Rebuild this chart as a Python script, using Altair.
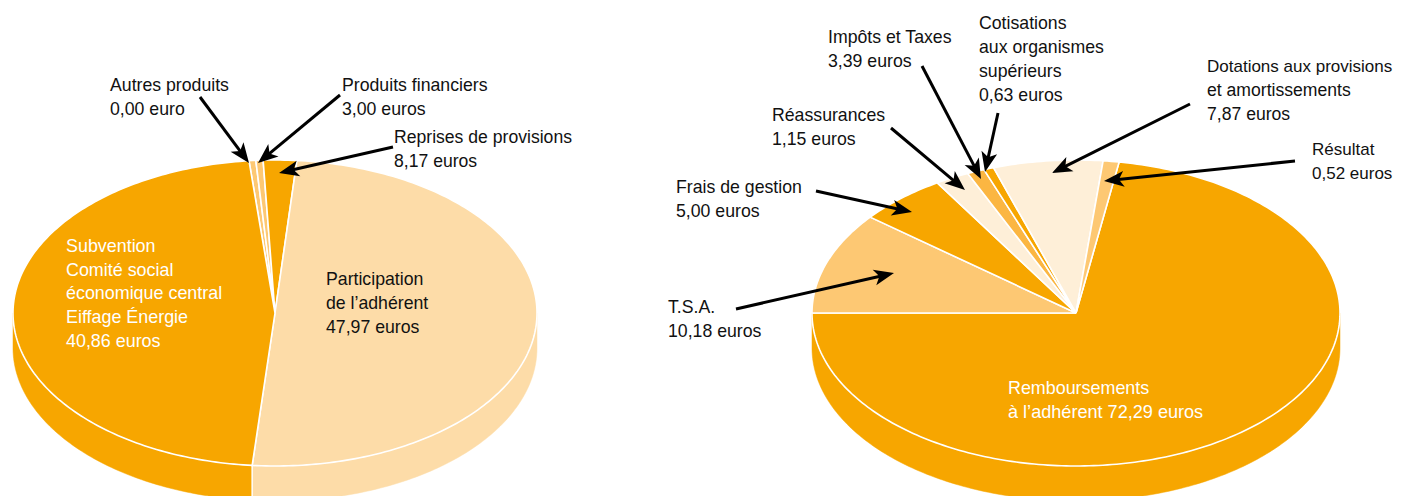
import math
import altair as alt
import pandas as pd

# Pie geometry of the picture, in page pixels
LEFT = dict(cx=275, cy=313, rx=262, ry=153, depth=35)
RIGHT = dict(cx=1076, cy=313, rx=264, ry=153, depth=35)

ORANGE = "#F7A600"
SAND = "#FDDCA8"
MID = "#FDC873"
AMBER = "#FBB642"
PALE = "#FEEFD8"
INK = "#111111"

# Slice sizes as drawn (degrees of the ellipse), clockwise from the start angle
left_start = -5.7
left_names = ["Autres produits", "Produits financiers", "Reprises de provisions",
              "Participation", "Subvention"]
left_sizes = [1.5, 1.6, 7.4, 180.2, 169.3]
left_colors = [MID, MID, ORANGE, SAND, ORANGE]

right_start = 9.4
right_names = ["Remboursements", "T.S.A.", "Frais de gestion", "Réassurances",
               "Impôts et Taxes", "Cotisations", "Dotations", "Résultat"]
right_sizes = [260.6, 38.8, 19.5, 7.5, 3.8, 2.2, 24.1, 3.5]
right_colors = [ORANGE, MID, ORANGE, PALE, AMBER, ORANGE, PALE, MID]

# Text lines: x, y, text, colour, size
labels = [
    (110, 85.5, "Autres produits", INK, 17.7), (110, 109.5, "0,00 euro", INK, 17.7),
    (342, 85.5, "Produits financiers", INK, 17.7), (342, 109.5, "3,00 euros", INK, 17.7),
    (394, 137.5, "Reprises de provisions", INK, 17.6), (394, 161.5, "8,17 euros", INK, 17.6),
    (66, 246.5, "Subvention", "white", 17.9), (66, 270.5, "Comité social", "white", 17.9),
    (66, 293.5, "économique central", "white", 17.9), (66, 317.5, "Eiffage Énergie", "white", 17.9),
    (66, 341.5, "40,86 euros", "white", 17.9),
    (326, 279.5, "Participation", INK, 17.7), (326, 303.5, "de l’adhérent", INK, 17.7),
    (326, 327.5, "47,97 euros", INK, 17.7),
    (828, 37.5, "Impôts et Taxes", INK, 17.7), (828, 61.5, "3,39 euros", INK, 17.7),
    (979, 23.5, "Cotisations", INK, 17.7), (979, 47.5, "aux organismes", INK, 17.7),
    (979, 71.5, "supérieurs", INK, 17.7), (979, 95.5, "0,63 euros", INK, 17.7),
    (1207, 66.5, "Dotations aux provisions", INK, 17), (1207, 90.5, "et amortissements", INK, 17.6),
    (1207, 114.5, "7,87 euros", INK, 17.6),
    (772, 115.5, "Réassurances", INK, 17.7), (772, 139.5, "1,15 euros", INK, 17.7),
    (1312, 149.5, "Résultat", INK, 17), (1312, 173.5, "0,52 euros", INK, 17),
    (676, 187.5, "Frais de gestion", INK, 17.7), (676, 211.5, "5,00 euros", INK, 17.7),
    (668, 307.5, "T.S.A.", INK, 17.7), (668, 331.5, "10,18 euros", INK, 17.7),
    (1008, 388.5, "Remboursements", "white", 17.9), (1008, 412.5, "à l’adhérent 72,29 euros", "white", 18.1),
]

# Arrows: tail x, tail y, tip x, tip y
arrows = [
    (200, 97, 249, 163), (340, 95, 258, 163), (393, 147, 279, 173),
    (922, 66, 981, 179), (998, 113, 985, 172), (891, 128, 965, 190),
    (816, 191, 912, 212), (736, 309, 894, 273), (1190, 104, 1052, 173),
    (1295, 161, 1104, 181),
]

X = alt.Scale(domain=[8, 1394], nice=False, zero=False)
Y = alt.Scale(domain=[496, 8], nice=False, zero=False)


def pt(g, deg, dy=0):
    t = math.radians(deg)
    return g["cx"] + g["rx"] * math.sin(t), g["cy"] - g["ry"] * math.cos(t) + dy


def arc(g, a, b, dy=0):
    n = max(2, int(abs(b - a)) + 1)
    return [pt(g, a + (b - a) * i / n, dy) for i in range(n + 1)]


def poly(points, fill, **kw):
    df = pd.DataFrame(points, columns=["x", "y"]).assign(i=range(len(points)))
    return alt.Chart(df).mark_line(fill=fill, clip=True, **kw).encode(
        x=alt.X("x:Q", scale=X, axis=None),
        y=alt.Y("y:Q", scale=Y, axis=None),
        order=alt.Order("i:Q"),
    )


sides, tops, seams = [], [], []
for g, start, sizes, colors in [
    (LEFT, left_start, left_sizes, left_colors),
    (RIGHT, right_start, right_sizes, right_colors),
]:
    a = start
    for size, color in zip(sizes, colors):
        b = a + size
        lo, hi = max(a, 90), min(b, 270)
        if lo < hi:
            pts = arc(g, lo, hi) + arc(g, hi, lo, g["depth"])
            sides.append(poly(pts + pts[:1], color, stroke=color, strokeWidth=0.5))
        if 90 < b < 270:
            x0, y0 = pt(g, b)
            seams.append({"x": x0, "y": y0, "y2": y0 + g["depth"]})
        c = (g["cx"], g["cy"])
        tops.append(poly([c] + arc(g, a, b) + [c], color, stroke="white",
                         strokeWidth=1.6, strokeJoin="miter"))
        a = b

seam_layer = alt.Chart(pd.DataFrame(seams)).mark_rule(
    stroke="white", strokeWidth=1.5, clip=True
).encode(
    x=alt.X("x:Q", scale=X, axis=None),
    y=alt.Y("y:Q", scale=Y, axis=None),
    y2="y2:Q",
)

arrow_rows = []
for x0, y0, x1, y1 in arrows:
    length = math.hypot(x1 - x0, y1 - y0)
    ux, uy = (x1 - x0) / length, (y1 - y0) / length
    arrow_rows.append({
        "x": x0, "y": y0, "x2": x1 - ux * 12, "y2": y1 - uy * 12,
        "tx": x1, "ty": y1,
        "a": math.degrees(math.atan2(ux, -uy)) % 360,
    })
arrow_df = pd.DataFrame(arrow_rows)

shafts = alt.Chart(arrow_df).mark_rule(stroke="#000000", strokeWidth=3).encode(
    x=alt.X("x:Q", scale=X, axis=None),
    y=alt.Y("y:Q", scale=Y, axis=None),
    x2="x2:Q",
    y2="y2:Q",
)
heads = alt.Chart(arrow_df).mark_point(
    shape="M0,0L0.8,2L0,1.5L-0.8,2Z", filled=True, fill="#000000",
    stroke=None, opacity=1, size=400,
).encode(
    x=alt.X("tx:Q", scale=X, axis=None),
    y=alt.Y("ty:Q", scale=Y, axis=None),
    angle=alt.Angle("a:Q", scale=None),
)

text_df = pd.DataFrame(labels, columns=["x", "y", "t", "c", "s"])
texts = alt.Chart(text_df).mark_text(
    align="left", baseline="middle", font="Liberation Sans",
).encode(
    x=alt.X("x:Q", scale=X, axis=None),
    y=alt.Y("y:Q", scale=Y, axis=None),
    text="t:N",
    color=alt.Color("c:N", scale=None),
    size=alt.Size("s:Q", scale=None),
)

chart = alt.layer(*sides, seam_layer, *tops, shafts, heads, texts).properties(
    width=1386, height=488, padding=0,
    autosize=alt.AutoSizeParams(type="none"),
    background="white",
).configure_view(stroke=None)

chart.save("out.html", embed_options={"renderer": "svg", "actions": False})
